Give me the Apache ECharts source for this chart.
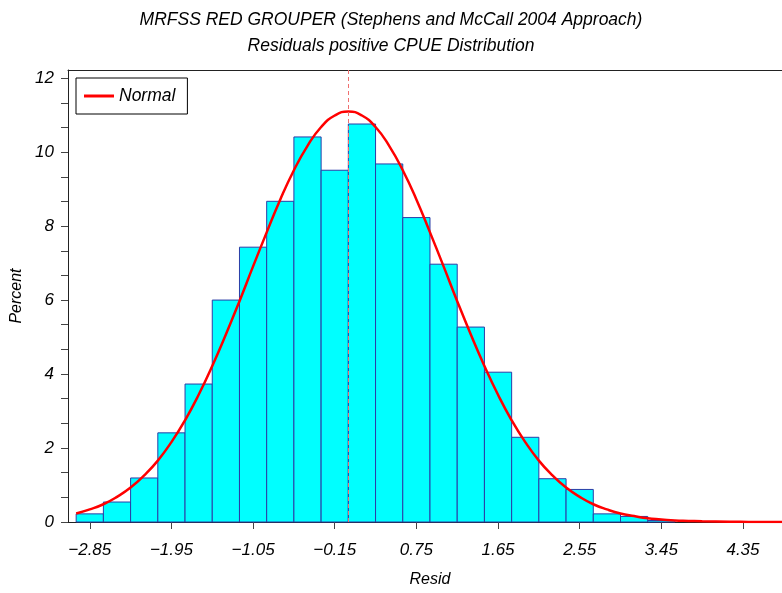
<!DOCTYPE html>
<html>
<head>
  <meta charset="utf-8">
  <title>Residuals positive CPUE Distribution</title>
  <style>
    body { margin: 0; background: #fff; }
    #container { width: 782px; height: 593px; }
  </style>
</head>
<body>
  <div id="container"></div>
  <script src="https://cdn.jsdelivr.net/npm/echarts@6/dist/echarts.min.js"></script>
  <script>
    // histogram bins (midpoints, width 0.3) and percent in each
    var binMids = [-2.85, -2.55, -2.25, -1.95, -1.65, -1.35, -1.05, -0.75, -0.45, -0.15,
                   0.15, 0.45, 0.75, 1.05, 1.35, 1.65, 1.95, 2.25, 2.55, 2.85, 3.15, 3.45];
    var binPercent = [0.22, 0.54, 1.19, 2.41, 3.73, 6.00, 7.43, 8.67, 10.41, 9.51,
                      10.76, 9.68, 8.23, 6.97, 5.27, 4.05, 2.29, 1.17, 0.88, 0.22, 0.15, 0.04];
    var binWidth = 0.3;

    // fitted normal curve
    var curveX = [-3.0, -2.85, -2.7, -2.55, -2.4, -2.25, -2.1, -1.95, -1.8, -1.65, -1.5, -1.35,
                  -1.2, -1.05, -0.9, -0.75, -0.6, -0.45, -0.3, -0.15, 0, 0.15, 0.3, 0.45, 0.6,
                  0.75, 0.9, 1.05, 1.2, 1.35, 1.5, 1.65, 1.8, 1.95, 2.1, 2.25, 2.4, 2.55, 2.7,
                  2.85, 3.0, 3.15, 3.3, 3.45, 3.6, 3.75, 3.9, 4.2, 4.5, 4.78];
    var curveY = [0.23, 0.34, 0.48, 0.68, 0.93, 1.26, 1.66, 2.16, 2.75, 3.44, 4.22, 5.07,
                  5.97, 6.91, 7.83, 8.72, 9.51, 10.17, 10.68, 10.99, 11.10, 10.99, 10.68, 10.17, 9.51,
                  8.72, 7.83, 6.91, 5.97, 5.07, 4.22, 3.44, 2.75, 2.16, 1.66, 1.26, 0.93, 0.68, 0.48,
                  0.34, 0.23, 0.16, 0.10, 0.07, 0.04, 0.03, 0.02, 0.01, 0.00, 0.00];
    var meanLine = 0;

    // tick labels
    var xTicks = [-2.85, -1.95, -1.05, -0.15, 0.75, 1.65, 2.55, 3.45, 4.35];
    var xTickLabels = ['\u22122.85', '\u22121.95', '\u22121.05', '\u22120.15', '0.75', '1.65', '2.55', '3.45', '4.35'];
    var yTicks = [0, 2, 4, 6, 8, 10, 12];

    var yMinor = [];
    for (var k = 0; k <= 18; k++) yMinor.push(k * 2 / 3);

    var bars = [];
    for (var i = 0; i < binMids.length; i++) bars.push([binMids[i], binPercent[i]]);
    var curve = [];
    for (var j = 0; j < curveX.length; j++) curve.push([curveX[j], curveY[j]]);

    var font = 'Liberation Sans, Arial, sans-serif';
    var chart = echarts.init(document.getElementById('container'), null, { renderer: 'canvas' });

    var option = {
      animation: false,
      title: {
        text: 'MRFSS RED GROUPER (Stephens and McCall 2004 Approach)\nResiduals positive CPUE Distribution',
        left: 'center',
        top: 2,
        textStyle: { fontFamily: font, fontStyle: 'italic', fontWeight: 'normal', fontSize: 17.5, lineHeight: 26, color: '#000' }
      },
      legend: {
        data: ['Normal'],
        left: 76,
        top: 78,
        padding: [9, 12, 9, 8],
        borderColor: '#000',
        borderWidth: 1,
        icon: 'rect',
        itemWidth: 30,
        itemHeight: 3,
        itemGap: 5,
        textStyle: { fontFamily: font, fontStyle: 'italic', fontSize: 17.5, color: '#000', padding: [4, 0, 0, 0] }
      },
      grid: {
        left: 68, top: 70, right: 0, bottom: 69,
        show: false
      },
      xAxis: [
        {
          type: 'value',
          min: -3.09,
          max: 4.78,
          name: 'Resid',
          nameLocation: 'middle',
          nameGap: 50,
          nameTextStyle: { fontFamily: font, fontStyle: 'italic', fontSize: 16, color: '#000', padding: [0, 0, 0, 10] },
          axisLine: { onZero: false, lineStyle: { color: '#222', width: 1 } },
          axisTick: { show: true, inside: false, length: 7, customValues: xTicks, lineStyle: { color: '#444' } },
          axisLabel: {
            customValues: xTicks,
            margin: 20,
            fontFamily: font, fontStyle: 'italic', fontSize: 17, color: '#000',
            formatter: function (v) {
              for (var t = 0; t < xTicks.length; t++) {
                if (Math.abs(xTicks[t] - v) < 1e-6) return xTickLabels[t];
              }
              return '';
            }
          },
          splitLine: { show: false }
        },
        {
          // top frame line only
          type: 'value',
          position: 'top',
          min: -3.09,
          max: 4.78,
          axisLine: { show: true, onZero: false, lineStyle: { color: '#222', width: 1 } },
          axisTick: { show: false },
          axisLabel: { show: false },
          splitLine: { show: false }
        }
      ],
      yAxis: {
        type: 'value',
        min: 0,
        max: 12.22,
        name: 'Percent',
        nameLocation: 'middle',
        nameRotate: 90,
        nameGap: 40,
        nameTextStyle: { fontFamily: font, fontStyle: 'italic', fontSize: 16, color: '#000' },
        axisLine: { show: true, onZero: false, lineStyle: { color: '#222', width: 1 } },
        axisTick: { show: true, inside: false, length: 7, customValues: yMinor, lineStyle: { color: '#444' } },
        axisLabel: {
          customValues: yTicks,
          margin: 14,
          fontFamily: font, fontStyle: 'italic', fontSize: 17, color: '#000'
        },
        splitLine: { show: false }
      },
      series: [
        {
          name: 'Percent',
          type: 'custom',
          z: 2,
          data: bars,
          renderItem: function (params, api) {
            var x = api.value(0);
            var y = api.value(1);
            var p0 = api.coord([x - binWidth / 2, y]);
            var p1 = api.coord([x + binWidth / 2, 0]);
            return {
              type: 'rect',
              shape: { x: p0[0], y: p0[1], width: p1[0] - p0[0], height: p1[1] - p0[1] },
              style: { fill: '#00ffff', stroke: '#2b3ca6', lineWidth: 1 }
            };
          }
        },
        {
          name: 'Normal',
          type: 'line',
          z: 3,
          data: curve,
          smooth: true,
          showSymbol: false,
          lineStyle: { color: '#ff0000', width: 2.5 },
          itemStyle: { color: '#ff0000' },
          markLine: {
            silent: true,
            symbol: 'none',
            label: { show: false },
            lineStyle: { color: '#f07070', type: [4, 3], width: 1 },
            data: [{ xAxis: meanLine }]
          }
        }
      ]
    };

    chart.setOption(option);
  </script>
</body>
</html>
